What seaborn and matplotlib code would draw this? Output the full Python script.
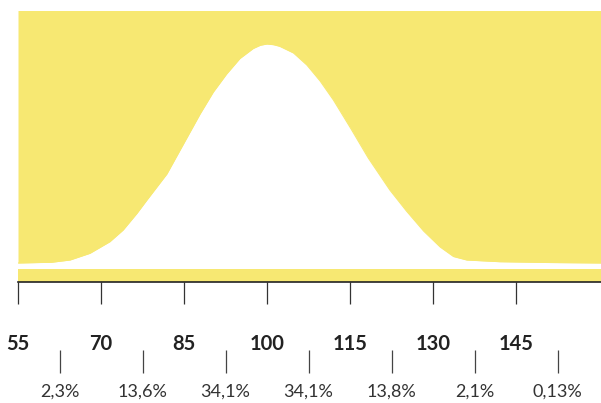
import matplotlib
matplotlib.use("Agg")
import matplotlib.pyplot as plt
import seaborn as sns
import pandas as pd

# ---- data ----
major_ticks = [55, 70, 85, 100, 115, 130, 145]
major_labels = ["55", "70", "85", "100", "115", "130", "145"]
band_centers = [62.5, 77.5, 92.5, 107.5, 122.5, 137.5, 152.5]
band_labels = ["2,3%", "13,6%", "34,1%", "34,1%", "13,8%", "2,1%", "0,13%"]

curve_x = [55, 59, 61, 64.4, 68, 71.6, 74, 76.5, 78.3, 81.9, 84.8, 87.9,
           90.3, 92.7, 95.1, 97.5, 98.8, 100, 101.2, 102.3, 104.8, 107.2,
           109.6, 112, 115.2, 118.3, 122.2, 125.2, 128.3, 131.3, 133.7,
           136.1, 142.1, 151, 160.4]
curve_h = [19, 19.5, 19.7, 22, 28.7, 40.3, 52, 68.7, 82, 108, 137, 168,
           190, 208, 223.5, 233.5, 236.8, 238, 237.3, 235.7, 229, 217,
           201, 182, 153, 124, 92, 71, 51, 35, 25.5,
           22, 20.3, 19.5, 19]

YELLOW = "#F7E872"
TOP = 271.5
BAR_TOP = 13
X_MIN, X_MAX = 55, 160.36

sns.set_style("white")
plt.rcParams["font.family"] = ["Lato", "DejaVu Sans"]

fig = plt.figure(figsize=(6.01, 4.03), dpi=100)
ax = fig.add_axes([18 / 601, (403 - 282) / 403, 583 / 601, TOP / 403])

df = pd.DataFrame({"iq": curve_x, "h": curve_h})
ax.fill_between(df["iq"], df["h"], TOP, color=YELLOW, linewidth=0)
sns.lineplot(data=df, x="iq", y="h", ax=ax, color=YELLOW, linewidth=0.8,
             sort=False)
ax.axhspan(0, BAR_TOP, color=YELLOW, linewidth=0)

ax.set_xlim(X_MIN, X_MAX)
ax.set_ylim(0, TOP)
ax.set_xlabel("")
ax.set_ylabel("")
ax.set_yticks([])
for s in ["top", "left", "right"]:
    ax.spines[s].set_visible(False)
ax.spines["bottom"].set_color("#222222")
ax.spines["bottom"].set_linewidth(1.2)

ax.set_xticks(major_ticks)
ax.set_xticklabels([])
ax.tick_params(axis="x", bottom=True, direction="out", length=15.8,
               width=0.9, color="#333333", pad=0)

trans = ax.get_xaxis_transform()
for x, lab in zip(major_ticks, major_labels):
    ax.text(x, -(343.7 - 282) / TOP, lab, transform=trans, ha="center",
            va="center", fontsize=14.5, fontweight="bold", color="#222222",
            clip_on=False)

ax.vlines(band_centers, -(373 - 282) / TOP, -(350 - 282) / TOP,
          transform=trans, colors="#444444", linewidth=0.9, clip_on=False)
for x, lab in zip(band_centers, band_labels):
    ax.text(x, -(392 - 282) / TOP, lab, transform=trans, ha="center",
            va="center", fontsize=13, color="#333333", clip_on=False)

fig.savefig("out.png", dpi=100)
